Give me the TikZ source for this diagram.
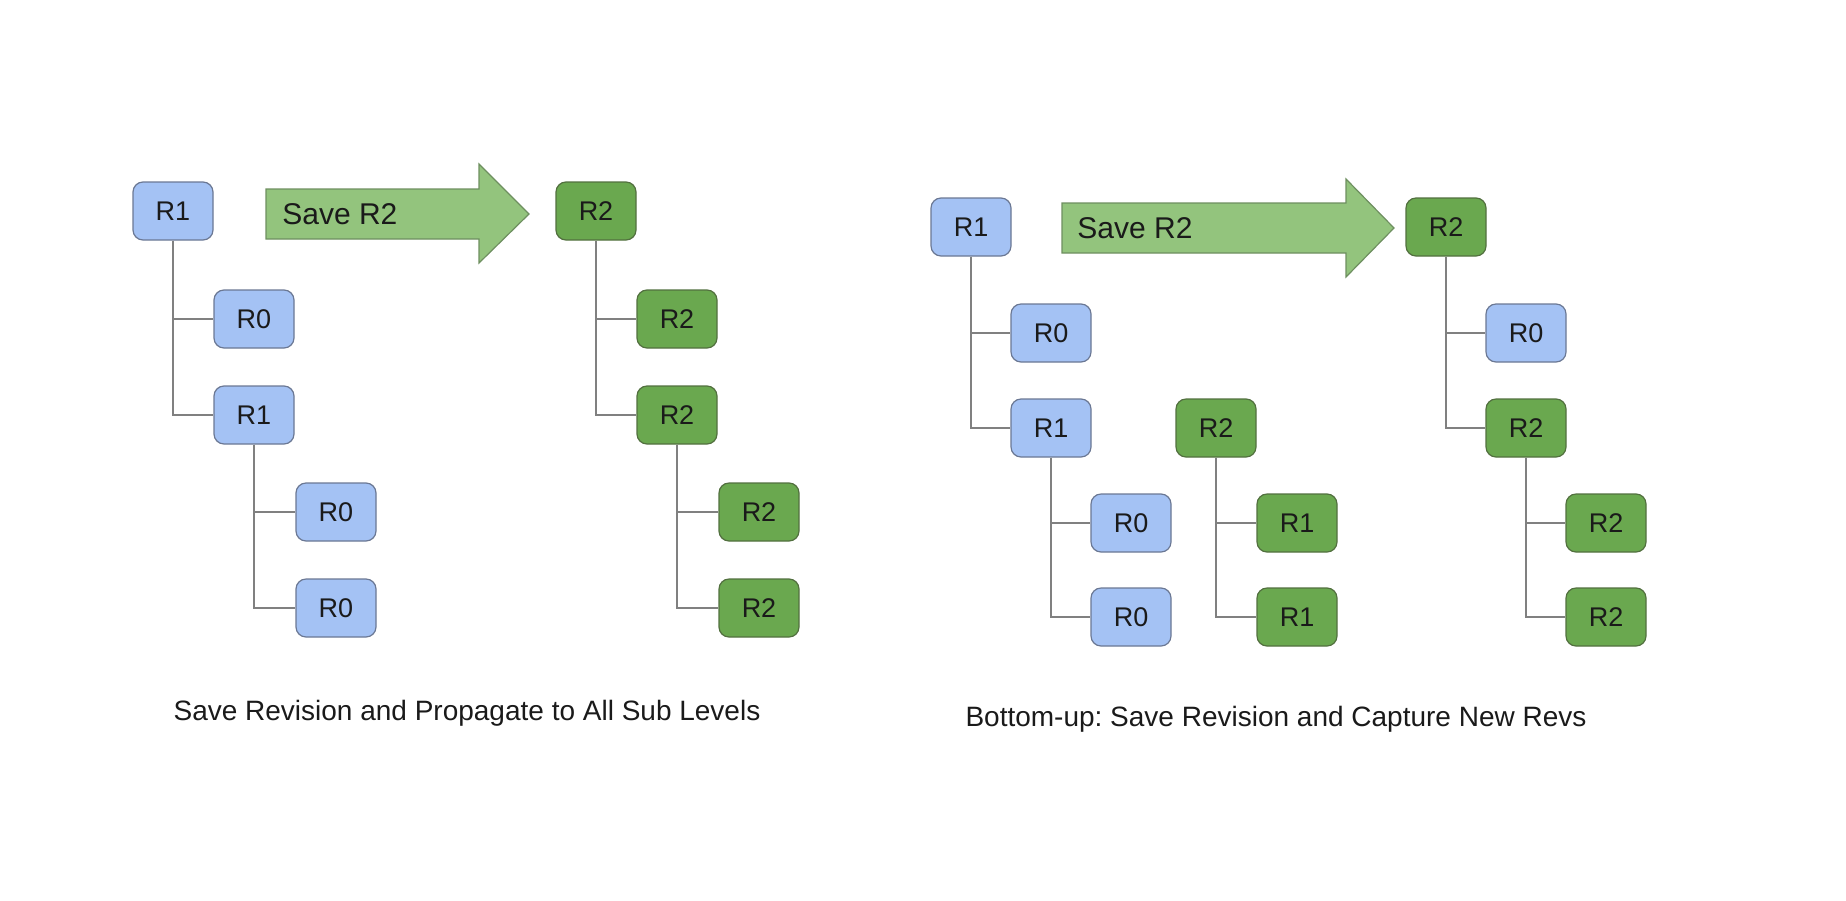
\documentclass[tikz,border=0pt]{standalone}
\usepackage{fontspec}
\setmainfont{Liberation Sans}
\frenchspacing
\definecolor{revblue}{HTML}{A4C2F4}
\definecolor{blueedge}{HTML}{6B7894}
\definecolor{revgreen}{HTML}{6AA84F}
\definecolor{greenedge}{HTML}{52703F}
\definecolor{arrowgreen}{HTML}{93C47D}
\definecolor{arrowedge}{HTML}{6E8F60}
\definecolor{treeline}{HTML}{808080}
\definecolor{txt}{HTML}{1A1A1A}
\begin{document}
\begin{tikzpicture}[x=0.5pt, y=-0.5pt, every node/.style={inner sep=0pt, text=txt},
    rev/.style={rounded corners=5pt, minimum width=40pt, minimum height=29pt,
      line width=0.6pt, font=\fontsize{13.5}{16}\selectfont},
    oldrev/.style={rev, draw=blueedge, fill=revblue},
    newrev/.style={rev, draw=greenedge, fill=revgreen},
    tree/.style={draw=treeline, line width=0.75pt},
    savearrow/.style={draw=arrowedge, fill=arrowgreen, line width=0.6pt}]
          \useasboundingbox (0,0) rectangle (1846,900);
          % left: propagate to all sub levels
          \node [oldrev] (a1) at (173,211) {R1};
          \node [oldrev] (a2) at (254,319) {R0};
          \node [oldrev] (a3) at (254,415) {R1};
          \node [oldrev] (a4) at (336,512) {R0};
          \node [oldrev] (a5) at (336,608) {R0};
          \filldraw [savearrow] (266,189) -- (479,189) -- (479,164) -- (529,214)
                -- (479,263) -- (479,239) -- (266,239) -- cycle;
          \node [anchor=west, font=\fontsize{15}{18}\selectfont] (sa) at (282,214) {Save R2};
          \node [newrev] (b1) at (596,211) {R2};
          \node [newrev] (b2) at (677,319) {R2};
          \node [newrev] (b3) at (677,415) {R2};
          \node [newrev] (b4) at (759,512) {R2};
          \node [newrev] (b5) at (759,608) {R2};
          \draw [tree] (a1.south) |- (a2.west);
          \draw [tree] (a1.south) |- (a3.west);
          \draw [tree] (a3.south) |- (a4.west);
          \draw [tree] (a3.south) |- (a5.west);
          \draw [tree] (b1.south) |- (b2.west);
          \draw [tree] (b1.south) |- (b3.west);
          \draw [tree] (b3.south) |- (b4.west);
          \draw [tree] (b3.south) |- (b5.west);
          \node [font=\fontsize{14}{17}\selectfont] (ca) at (467,713) {Save Revision and Propagate to All Sub Levels};
          % right: bottom-up
          \node [oldrev] (c1) at (971,227) {R1};
          \node [oldrev] (c2) at (1051,333) {R0};
          \node [oldrev] (c3) at (1051,428) {R1};
          \node [oldrev] (c4) at (1131,523) {R0};
          \node [oldrev] (c5) at (1131,617) {R0};
          \node [newrev] (d1) at (1216,428) {R2};
          \node [newrev] (d2) at (1297,523) {R1};
          \node [newrev] (d3) at (1297,617) {R1};
          \filldraw [savearrow] (1062,203) -- (1346,203) -- (1346,179) -- (1394,228)
                -- (1346,277) -- (1346,253) -- (1062,253) -- cycle;
          \node [anchor=west, font=\fontsize{15}{18}\selectfont] (sb) at (1077,228) {Save R2};
          \node [newrev] (e1) at (1446,227) {R2};
          \node [oldrev] (e2) at (1526,333) {R0};
          \node [newrev] (e3) at (1526,428) {R2};
          \node [newrev] (e4) at (1606,523) {R2};
          \node [newrev] (e5) at (1606,617) {R2};
          \draw [tree] (c1.south) |- (c2.west);
          \draw [tree] (c1.south) |- (c3.west);
          \draw [tree] (c3.south) |- (c4.west);
          \draw [tree] (c3.south) |- (c5.west);
          \draw [tree] (d1.south) |- (d2.west);
          \draw [tree] (d1.south) |- (d3.west);
          \draw [tree] (e1.south) |- (e2.west);
          \draw [tree] (e1.south) |- (e3.west);
          \draw [tree] (e3.south) |- (e4.west);
          \draw [tree] (e3.south) |- (e5.west);
          \node [font=\fontsize{14}{17}\selectfont] (cb) at (1276,719) {Bottom-up: Save Revision and Capture New Revs};
        \end{tikzpicture}
\end{document}
